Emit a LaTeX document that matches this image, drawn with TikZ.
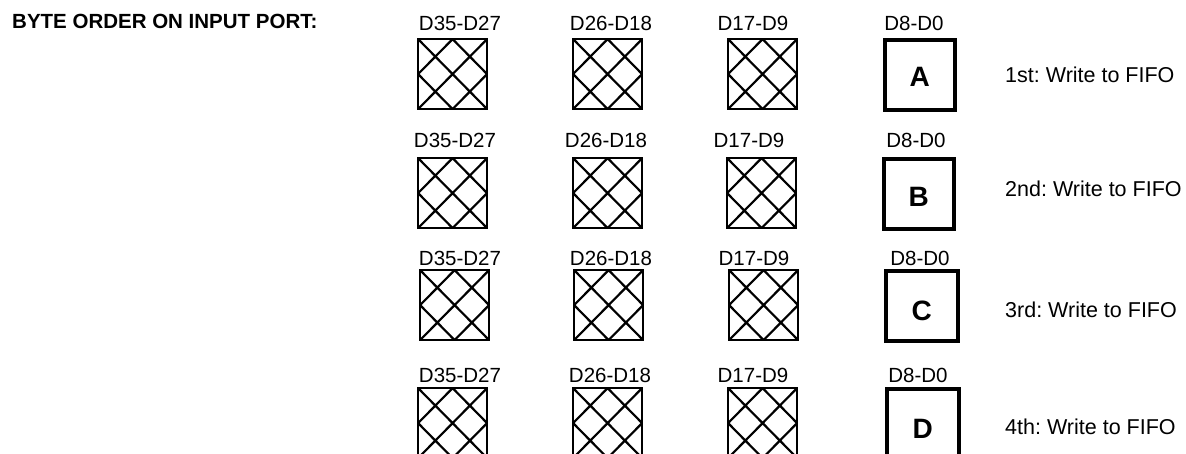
\documentclass[tikz,border=0pt]{standalone}
\usepackage{fontspec}
\setmainfont{Liberation Sans}
\frenchspacing
\begin{document}
\begin{tikzpicture}[x=1pt,y=-1pt,
  hbox/.style={draw, line width=2.2pt, minimum width=69pt, minimum height=70pt,
    inner sep=0pt, anchor=north west,
    path picture={\draw[line width=2.2pt]
      (path picture bounding box.north west) -- (path picture bounding box.south east)
      (path picture bounding box.north east) -- (path picture bounding box.south west)
      (path picture bounding box.north) -- (path picture bounding box.east)
      -- (path picture bounding box.south) -- (path picture bounding box.west) -- cycle;}},
  lbox/.style={draw, line width=3.5pt, minimum width=70pt, minimum height=70pt,
    inner sep=0pt, anchor=north west},
  letter/.style={font=\fontsize{28}{30}\selectfont\bfseries, inner sep=0pt},
  lab/.style={font=\fontsize{20.5}{24}\selectfont, anchor=base, inner sep=0pt},
  side/.style={font=\fontsize{21.5}{25}\selectfont, anchor=west, inner sep=0pt},
  head/.style={font=\fontsize{20.5}{24}\selectfont\bfseries, anchor=west, inner sep=0pt}
]
\useasboundingbox (0,0) rectangle (1186,453);
\clip (0,0) rectangle (1186,453);

\node[head] (title) at (12,21) {BYTE ORDER ON INPUT PORT:};

% Row 1
\node[hbox] (r1c1) at (417,38) {};
\node[hbox] (r1c2) at (572,38) {};
\node[hbox] (r1c3) at (727,38) {};
\node[lbox] (r1c4) at (883,38) {};
\node[letter] (lA) at ([yshift=-2pt]r1c4.center) {A};
\node[lab] (t1c1) at (460,30) {D35-D27};
\node[lab] (t1c2) at (611,30) {D26-D18};
\node[lab] (t1c3) at (753,30) {D17-D9};
\node[lab] (t1c4) at (914,30) {D8-D0};
\node[side] (s1) at (1005,75) {1st: Write to FIFO};

% Row 2
\node[hbox] (r2c1) at (417,157) {};
\node[hbox] (r2c2) at (572,157) {};
\node[hbox] (r2c3) at (726,157) {};
\node[lbox] (r2c4) at (882,157) {};
\node[letter] (lB) at ([yshift=-3pt]r2c4.center) {B};
\node[lab] (t2c1) at (455,147) {D35-D27};
\node[lab] (t2c2) at (606,147) {D26-D18};
\node[lab] (t2c3) at (749,147) {D17-D9};
\node[lab] (t2c4) at (916,147) {D8-D0};
\node[side] (s2) at (1005,189) {2nd: Write to FIFO};

% Row 3
\node[hbox] (r3c1) at (419,269) {};
\node[hbox] (r3c2) at (573,269) {};
\node[hbox] (r3c3) at (728,269) {};
\node[lbox, minimum width=72pt] (r3c4) at (884,269) {};
\node[letter] (lC) at ([yshift=-5pt]r3c4.center) {C};
\node[lab] (t3c1) at (460,265) {D35-D27};
\node[lab] (t3c2) at (611,265) {D26-D18};
\node[lab] (t3c3) at (754,265) {D17-D9};
\node[lab] (t3c4) at (920,265) {D8-D0};
\node[side] (s3) at (1005,310) {3rd: Write to FIFO};

% Row 4
\node[hbox] (r4c1) at (417,387) {};
\node[hbox] (r4c2) at (572,387) {};
\node[hbox] (r4c3) at (727,387) {};
\node[lbox, minimum width=72pt] (r4c4) at (885,387) {};
\node[letter] (lD) at ([yshift=-5pt]r4c4.center) {D};
\node[lab] (t4c1) at (460,382) {D35-D27};
\node[lab] (t4c2) at (610,382) {D26-D18};
\node[lab] (t4c3) at (753,382) {D17-D9};
\node[lab] (t4c4) at (918,382) {D8-D0};
\node[side] (s4) at (1005,427) {4th: Write to FIFO};
\end{tikzpicture}
\end{document}
